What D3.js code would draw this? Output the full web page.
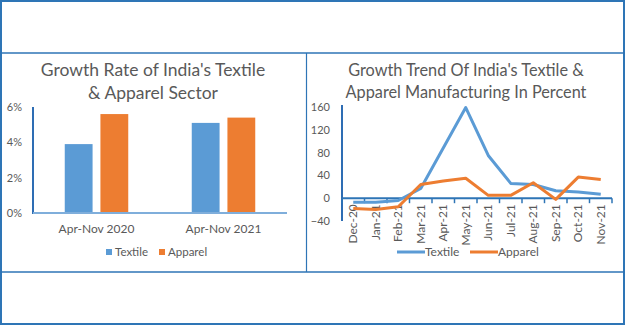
<!DOCTYPE html>
<html>
<head>
<meta charset="utf-8">
<script src="https://cdn.jsdelivr.net/npm/d3@7"></script>
<style>
  html, body { margin: 0; padding: 0; background: #fff; }
  svg { display: block; }
  text { font-family: "Lato", "Open Sans", sans-serif; fill: #595959; }
</style>
</head>
<body>
<svg id="chart" width="625" height="325"></svg>
<script>
// ---------- Data ----------
const barCategories = ["Apr-Nov 2020", "Apr-Nov 2021"];
const barSeries = ["Textile", "Apparel"];
const barTextile = [3.9, 5.1];
const barApparel = [5.6, 5.4];
const barTicks = [0, 2, 4, 6];

const months = ["Dec-20", "Jan-21", "Feb-21", "Mar-21", "Apr-21", "May-21",
                "Jun-21", "Jul-21", "Aug-21", "Sep-21", "Oct-21", "Nov-21"];
const lineTextile = [-7, -7, -4, 17, 88, 159, 75, 26, 24, 13, 11, 7];
const lineApparel = [-18, -20, -15, 24, 30, 35, 5, 5, 27, -2, 37, 33];
const lineTicks = [-40, 0, 40, 80, 120, 160];

const colors = { Textile: "#5B9BD5", Apparel: "#ED7D31" };
const frameColor = "#2E75B6";

const svg = d3.select("#chart");

// ---------- Frame ----------
const frame = svg.append("g");
frame.append("rect").attr("x", 1).attr("y", 1).attr("width", 623).attr("height", 323)
  .attr("fill", "none").attr("stroke", frameColor).attr("stroke-width", 2);
frame.append("line").attr("x1", 0).attr("x2", 625).attr("y1", 53).attr("y2", 53)
  .attr("stroke", frameColor).attr("stroke-width", 1.5);
frame.append("line").attr("x1", 0).attr("x2", 625).attr("y1", 272).attr("y2", 272)
  .attr("stroke", frameColor).attr("stroke-width", 1.5);
frame.append("line").attr("x1", 306.5).attr("x2", 306.5).attr("y1", 53).attr("y2", 272)
  .attr("stroke", frameColor).attr("stroke-width", 1.2);

// ---------- Left: grouped bar chart ----------
{
  const g = svg.append("g");
  const left = 33, right = 287, top = 107, bottom = 213;
  const y = d3.scaleLinear().domain([0, 6]).range([bottom, top]);
  const x0 = d3.scaleBand().domain(barCategories).range([left, right]).paddingInner(0.5).paddingOuter(0.25);
  const x1 = d3.scaleBand().domain(barSeries).range([0, x0.bandwidth()]).paddingInner(0.22);

  const title = g.append("text").attr("text-anchor", "middle").style("font-size", "17.5px");
  title.append("tspan").attr("x", 153).attr("y", 76).text("Growth Rate of India's Textile");
  title.append("tspan").attr("x", 153).attr("y", 99).text("& Apparel Sector");

  const yAxis = d3.axisLeft(y).tickValues(barTicks).tickFormat(d => d + "%").tickSize(0).tickPadding(11);
  const ya = g.append("g").attr("transform", `translate(${left},0)`).call(yAxis);
  ya.select(".domain").remove();
  ya.selectAll("text").style("font-size", "11px").style("fill", "#595959").style("font-family", "Lato");

  const series = { Textile: barTextile, Apparel: barApparel };
  barCategories.forEach((c, i) => {
    barSeries.forEach(s => {
      g.append("rect")
        .attr("x", x0(c) + x1(s))
        .attr("y", y(series[s][i]))
        .attr("width", x1.bandwidth())
        .attr("height", y(0) - y(series[s][i]))
        .attr("fill", colors[s]);
    });
  });

  g.append("line").attr("x1", left).attr("x2", left).attr("y1", y(6)).attr("y2", y(0) + 1)
    .attr("stroke", "#2E6DB4").attr("stroke-width", 2);
  g.append("line").attr("x1", left).attr("x2", right).attr("y1", y(0)).attr("y2", y(0))
    .attr("stroke", "#7FAEDB").attr("stroke-width", 2);

  const xAxis = d3.axisBottom(x0).tickSize(0).tickPadding(11);
  const xa = g.append("g").attr("transform", `translate(0,${bottom})`).call(xAxis);
  xa.select(".domain").remove();
  xa.selectAll("text").style("font-size", "12px").style("fill", "#595959").style("font-family", "Lato");

  const leg = g.append("g").attr("transform", "translate(106,252)");
  barSeries.forEach((s, i) => {
    const item = leg.append("g").attr("transform", `translate(${i === 0 ? 0 : 53},0)`);
    item.append("rect").attr("x", 0).attr("y", -3).attr("width", 6).attr("height", 6).attr("fill", colors[s]);
    item.append("text").attr("x", 9).attr("y", 4).style("font-size", "11.5px").text(s);
  });
}

// ---------- Right: line chart ----------
{
  const g = svg.append("g");
  const left = 342, right = 612, top = 107, bottom = 221;
  const y = d3.scaleLinear().domain([-40, 160]).range([bottom, top]);
  const x = d3.scaleBand().domain(months).range([left, right]);

  const title = g.append("text").attr("text-anchor", "middle").style("font-size", "16.3px");
  title.append("tspan").attr("x", 466).attr("y", 76).text("Growth Trend Of India's Textile &");
  title.append("tspan").attr("x", 466).attr("y", 98).text("Apparel Manufacturing In Percent");

  const yAxis = d3.axisLeft(y).tickValues(lineTicks).tickSize(0).tickPadding(12);
  const ya = g.append("g").attr("transform", `translate(${left},0)`).call(yAxis);
  ya.select(".domain").remove();
  ya.selectAll("text").style("font-size", "11px").style("fill", "#595959").style("font-family", "Lato");

  g.append("line").attr("x1", left).attr("x2", left).attr("y1", top - 2).attr("y2", bottom)
    .attr("stroke", "#2E6DB4").attr("stroke-width", 2);

  const xAxis = d3.axisBottom(x).tickSize(0).tickPadding(0);
  const xa = g.append("g").attr("transform", `translate(0,${y(0)})`).call(xAxis);
  xa.select(".domain").remove();
  xa.selectAll("text")
    .style("font-size", "12px").style("fill", "#595959").style("font-family", "Lato")
    .attr("text-anchor", "end")
    .attr("dy", "0.35em")
    .attr("transform", "translate(0,6) rotate(-90)")
    .attr("x", 0).attr("y", 0);

  g.append("line").attr("x1", left).attr("x2", right).attr("y1", y(0)).attr("y2", y(0))
    .attr("stroke", "#2E75B6").attr("stroke-width", 2);
  const tickPos = months.map(m => x(m)).concat([right]);
  g.selectAll(".xtick").data(tickPos).enter().append("line")
    .attr("x1", d => d).attr("x2", d => d)
    .attr("y1", y(0)).attr("y2", y(0) + 5)
    .attr("stroke", "#2E75B6").attr("stroke-width", 1.5);

  const line = d3.line().x((d, i) => x(months[i]) + x.bandwidth() / 2).y(d => y(d));
  [["Textile", lineTextile], ["Apparel", lineApparel]].forEach(([s, vals]) => {
    g.append("path").datum(vals).attr("d", line).attr("fill", "none")
      .attr("stroke", colors[s]).attr("stroke-width", 3).attr("stroke-linejoin", "round");
  });

  const leg = g.append("g").attr("transform", "translate(397,252)");
  ["Textile", "Apparel"].forEach((s, i) => {
    const item = leg.append("g").attr("transform", `translate(${i === 0 ? 0 : 73},0)`);
    item.append("line").attr("x1", 0).attr("x2", 28).attr("y1", 0).attr("y2", 0)
      .attr("stroke", colors[s]).attr("stroke-width", 3);
    item.append("text").attr("x", 28).attr("y", 4).style("font-size", "12px").text(s);
  });
}
</script>
</body>
</html>
